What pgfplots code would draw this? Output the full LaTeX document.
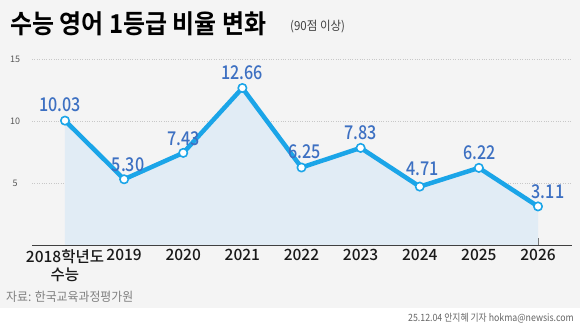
\documentclass[border=0pt]{standalone}
\usepackage{pgfplots}
\pgfplotsset{compat=1.18}
\usepackage{pgfplotstable}
\usepackage{fontspec}
\setmainfont{Noto Sans CJK KR}
\newfontfamily\krbold{Noto Sans CJK KR Bold}
\newfontfamily\krmed{Noto Sans CJK KR Medium}
\definecolor{bgc}{HTML}{F4F4F4}
\definecolor{linec}{HTML}{1BA5E8}
\definecolor{labc}{HTML}{3D70C2}
\definecolor{fillc}{HTML}{E1ECF5}
\definecolor{gridc}{HTML}{C8C8C8}

\pgfplotstableread{
x y dx dy lab
0 10.03 -5 16 10.03
1 5.30 4 15 5.30
2 7.43 0 14 7.43
3 12.66 0 15 12.66
4 6.25 3 16 6.25
5 7.83 0 15 7.83
6 4.71 3 18 4.71
7 6.22 1 15 6.22
8 3.11 10 15 3.11
}\datatab

\begin{document}
\begin{tikzpicture}
\fill[bgc] (0,0) rectangle (580bp,329bp);
\fill[white] (0,0) rectangle (580bp,21bp);
% title
\node[anchor=west, inner sep=0] at (10bp,305bp) {\scalebox{0.92}[1]{\krbold\fontsize{26bp}{29bp}\selectfont 수능 영어 1등급 비율 변화}};
\node[anchor=west, inner sep=0, text=black!75] at (290bp,302bp) {\scalebox{0.92}[1]{\fontsize{12.5bp}{14bp}\selectfont (90점 이상)}};
% source
\node[anchor=west, inner sep=0, text=black!50] at (6bp,32bp) {\scalebox{0.95}[1]{\fontsize{12.5bp}{14bp}\selectfont 자료: 한국교육과정평가원}};
\node[anchor=east, inner sep=0, text=black!60] at (574bp,11bp) {\scalebox{0.88}[1]{\fontsize{10bp}{12bp}\selectfont 25.12.04 안지혜 기자 hokma@newsis.com}};
\begin{axis}[
  at={(32bp,84bp)}, anchor=south west,
  scale only axis, width=540bp, height=186bp,
  xmin=-0.558, xmax=8.575, ymin=0, ymax=15,
  clip=false,
  axis x line*=bottom, axis y line*=left,
  y axis line style={draw=none},
  x axis line style={draw=black!75, line width=0.7bp},
  xtick={0,...,8},
  xticklabels={{2018학년도\\수능},2019,2020,2021,2022,2023,2024,2025,2026},
  xtick align=inside,
  major tick length=7bp,
  xtick style={draw=black!60, line width=0.7bp},
  ytick={5,10,15},
  ytick style={draw=none},
  ymajorgrids,
  grid style={gridc, dotted, line width=0.8bp},
  yticklabel style={anchor=center, xshift=-17bp, text=black!65, font=\fontsize{9bp}{10bp}\selectfont},
  xticklabel style={align=center, text=black!90, font=\krmed\fontsize{15.5bp}{18bp}\selectfont, yshift=-1bp},
  /pgf/number format/assume math mode=true,
]
\addplot[fill=fillc, draw=none] table[x=x,y=y] {\datatab} \closedcycle;
\addplot[color=linec, line width=4.5bp, line join=round,
  mark=*, mark size=4.2bp, mark options={fill=white, draw=linec, line width=1.6bp},
  nodes near coords={\scalebox{0.85}[1]{\pgfplotspointmeta}},
  point meta=explicit symbolic,
  visualization depends on={\thisrow{dx} \as \dx},
  visualization depends on={\thisrow{dy} \as \dy},
  every node near coord/.append style={anchor=center, xshift=\dx bp, yshift=\dy bp, text=labc, font=\krmed\fontsize{19bp}{22bp}\selectfont, inner sep=0},
] table[x=x,y=y,meta=lab] {\datatab};
\end{axis}
\end{tikzpicture}
\end{document}
